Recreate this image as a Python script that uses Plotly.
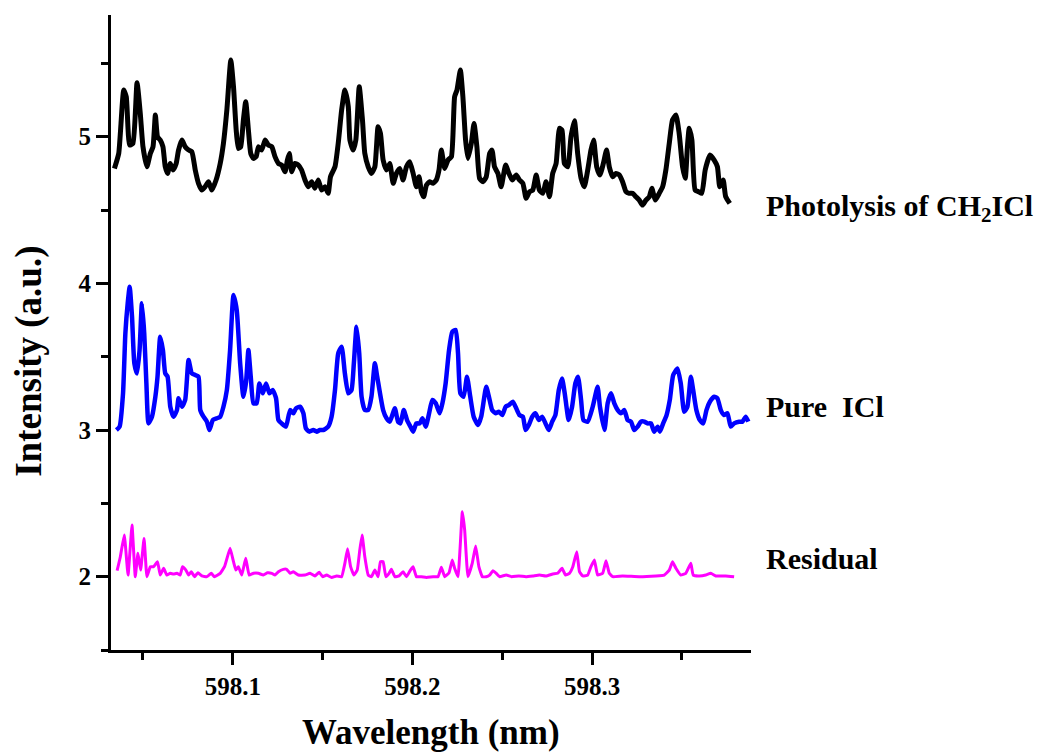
import plotly.graph_objects as go

# ---------------- data ----------------
photolysis_wl = [
    598.0341, 598.0365, 598.0393, 598.0407, 598.0426, 598.0444, 598.0467, 598.0485, 598.0500, 598.0522,
    598.0541, 598.0556, 598.0569, 598.0581, 598.0596, 598.0611, 598.0624, 598.0637, 598.0652, 598.0667,
    598.0685, 598.0698, 598.0717, 598.0735, 598.0754, 598.0772, 598.0791, 598.0809, 598.0828, 598.0846,
    598.0865, 598.0883, 598.0907, 598.0930, 598.0948, 598.0967, 598.0989, 598.1004, 598.1019, 598.1031,
    598.1044, 598.1059, 598.1072, 598.1087, 598.1100, 598.1115, 598.1130, 598.1143, 598.1161, 598.1180,
    598.1198, 598.1217, 598.1235, 598.1254, 598.1272, 598.1291, 598.1304, 598.1315, 598.1328, 598.1346,
    598.1365, 598.1383, 598.1402, 598.1420, 598.1439, 598.1457, 598.1476, 598.1494, 598.1513, 598.1531,
    598.1544, 598.1569, 598.1587, 598.1606, 598.1624, 598.1643, 598.1652, 598.1670, 598.1685, 598.1704,
    598.1722, 598.1735, 598.1754, 598.1772, 598.1791, 598.1809, 598.1822,
    598.1837, 598.1856, 598.1874, 598.1893, 598.1911, 598.1930, 598.1948, 598.1967, 598.1985, 598.2004,
    598.2022, 598.2037, 598.2050, 598.2063, 598.2078, 598.2096, 598.2115, 598.2133, 598.2148, 598.2161,
    598.2180, 598.2198, 598.2217, 598.2235, 598.2248, 598.2267, 598.2281, 598.2296, 598.2309, 598.2328,
    598.2343, 598.2359, 598.2374, 598.2393, 598.2411, 598.2430, 598.2443, 598.2457, 598.2476, 598.2494,
    598.2519, 598.2537, 598.2556, 598.2578, 598.2596, 598.2615, 598.2633, 598.2652, 598.2670, 598.2689,
    598.2707, 598.2726, 598.2744, 598.2763, 598.2781, 598.2800, 598.2819, 598.2833, 598.2846, 598.2865,
    598.2883, 598.2902, 598.2920, 598.2939, 598.2957, 598.2976, 598.2994, 598.3009, 598.3026, 598.3044,
    598.3063, 598.3081, 598.3096, 598.3115, 598.3133, 598.3152, 598.3170, 598.3189, 598.3207, 598.3226,
    598.3244, 598.3263, 598.3281, 598.3300, 598.3319, 598.3333, 598.3352, 598.3374, 598.3393, 598.3411,
    598.3430, 598.3448, 598.3467, 598.3485, 598.3504, 598.3519, 598.3531, 598.3541, 598.3556, 598.3574,
    598.3593, 598.3611, 598.3630, 598.3657, 598.3680, 598.3698, 598.3711, 598.3730, 598.3744, 598.3767,
]
photolysis_int = [
    4.784, 4.886, 5.318, 5.273, 4.943, 4.955, 5.368, 5.159, 4.932, 4.795,
    4.886, 4.932, 5.148, 5.000, 4.977, 4.932, 4.795, 4.750, 4.818, 4.773,
    4.818, 4.909, 4.977, 4.932, 4.909, 4.898, 4.773, 4.682, 4.636, 4.659,
    4.693, 4.636, 4.705, 4.818, 4.955, 5.182, 5.523, 5.341, 5.045, 4.920,
    4.932, 5.114, 5.239, 5.045, 4.886, 4.852, 4.864, 4.932, 4.909, 4.977,
    4.943, 4.932, 4.864, 4.818, 4.807, 4.761, 4.841, 4.886, 4.761, 4.818,
    4.807, 4.773, 4.705, 4.659, 4.693, 4.648, 4.705, 4.636, 4.659, 4.614,
    4.727, 4.795, 4.955, 5.182, 5.318, 5.205, 4.977, 4.909, 4.977, 5.341,
    5.114, 4.886, 4.795, 4.750, 4.795, 5.068, 5.023,
    4.841, 4.773, 4.818, 4.682, 4.750, 4.784, 4.705, 4.795, 4.830, 4.750,
    4.659, 4.727, 4.625, 4.591, 4.670, 4.693, 4.682, 4.705, 4.773, 4.909,
    4.784, 4.841, 4.864, 5.273, 5.318, 5.455, 5.273, 4.977, 4.852, 4.955,
    5.091, 4.932, 4.716, 4.693, 4.727, 4.886, 4.909, 4.795, 4.750, 4.659,
    4.807, 4.750, 4.705, 4.739, 4.705, 4.682, 4.580, 4.625, 4.636, 4.739,
    4.636, 4.614, 4.693, 4.591, 4.750, 4.818, 5.057, 5.045, 4.818, 4.795,
    5.000, 5.109, 4.886, 4.716, 4.659, 4.773, 4.909, 4.977, 4.795, 4.739,
    4.818, 4.909, 4.795, 4.727, 4.750, 4.739, 4.693, 4.625, 4.614, 4.614,
    4.591, 4.568, 4.534, 4.568, 4.591, 4.648, 4.568, 4.614, 4.659, 4.773,
    4.955, 5.114, 5.148, 5.023, 4.795, 4.716, 4.932, 5.057, 4.977, 4.636,
    4.625, 4.614, 4.773, 4.875, 4.841, 4.795, 4.659, 4.705, 4.591, 4.545,
]

pure_wl = [
    598.0352, 598.0370, 598.0389, 598.0402, 598.0415, 598.0426, 598.0439, 598.0452, 598.0467, 598.0481,
    598.0494, 598.0507, 598.0519, 598.0531, 598.0550, 598.0569, 598.0581, 598.0596, 598.0611, 598.0624,
    598.0637, 598.0652, 598.0670, 598.0689, 598.0698, 598.0717, 598.0735, 598.0754, 598.0772, 598.0791,
    598.0809, 598.0819, 598.0837, 598.0856, 598.0870, 598.0889, 598.0911, 598.0930, 598.0948, 598.0967,
    598.0985, 598.1004, 598.1022, 598.1041, 598.1059, 598.1074, 598.1087, 598.1100, 598.1115, 598.1133,
    598.1148, 598.1167, 598.1185, 598.1204, 598.1222, 598.1241, 598.1254, 598.1272, 598.1296, 598.1319,
    598.1337, 598.1352, 598.1374, 598.1393, 598.1407, 598.1426, 598.1448, 598.1467, 598.1485, 598.1504,
    598.1531, 598.1550, 598.1569, 598.1587, 598.1606, 598.1624, 598.1643, 598.1661, 598.1674, 598.1689,
    598.1704, 598.1717, 598.1735, 598.1754, 598.1772, 598.1791, 598.1804,
    598.1837, 598.1856, 598.1874, 598.1902, 598.1920, 598.1933, 598.1952, 598.1970, 598.1989, 598.2004,
    598.2022, 598.2041, 598.2056, 598.2074, 598.2093, 598.2111, 598.2130, 598.2152, 598.2167, 598.2185,
    598.2204, 598.2222, 598.2241, 598.2254, 598.2267, 598.2285, 598.2304, 598.2322, 598.2341, 598.2365,
    598.2383, 598.2411, 598.2426, 598.2444, 598.2463, 598.2481, 598.2500, 598.2519, 598.2537, 598.2559,
    598.2578, 598.2596, 598.2615, 598.2630, 598.2648, 598.2667, 598.2685, 598.2704, 598.2722, 598.2741,
    598.2759, 598.2778, 598.2796, 598.2815, 598.2833, 598.2848, 598.2870, 598.2889, 598.2907, 598.2922,
    598.2939, 598.2952, 598.2976, 598.3004, 598.3031, 598.3044, 598.3069, 598.3087, 598.3106, 598.3124,
    598.3143, 598.3161, 598.3180, 598.3198, 598.3217, 598.3235, 598.3254, 598.3272, 598.3291, 598.3309,
    598.3328, 598.3346, 598.3365, 598.3378, 598.3396, 598.3415, 598.3433, 598.3452, 598.3476, 598.3494,
    598.3513, 598.3531, 598.3550, 598.3563, 598.3581, 598.3600, 598.3619, 598.3637, 598.3656, 598.3680,
    598.3698, 598.3717, 598.3735, 598.3754, 598.3772, 598.3791, 598.3819, 598.3837, 598.3856, 598.3870,
]
pure_int = [
    3.000, 3.023, 3.250, 3.659, 3.864, 3.977, 3.773, 3.455, 3.386, 3.545,
    3.864, 3.659, 3.318, 3.045, 3.091, 3.227, 3.364, 3.636, 3.545, 3.386,
    3.364, 3.159, 3.091, 3.136, 3.216, 3.159, 3.205, 3.477, 3.386, 3.375,
    3.364, 3.136, 3.091, 3.057, 3.000, 3.068, 3.080, 3.091, 3.159, 3.273,
    3.545, 3.920, 3.818, 3.455, 3.227, 3.330, 3.545, 3.364, 3.182, 3.182,
    3.318, 3.250, 3.318, 3.250, 3.273, 3.216, 3.068, 3.045, 3.023, 3.136,
    3.114, 3.148, 3.159, 3.114, 3.011, 2.989, 3.000, 2.989, 3.000, 3.000,
    3.023, 3.091, 3.273, 3.523, 3.568, 3.386, 3.250, 3.273, 3.455, 3.705,
    3.523, 3.227, 3.136, 3.136, 3.227, 3.455, 3.364,
    3.136, 3.080, 3.057, 3.148, 3.057, 3.045, 3.136, 3.068, 3.023, 2.989,
    3.045, 3.045, 3.080, 3.023, 3.114, 3.205, 3.182, 3.114, 3.182, 3.318,
    3.545, 3.670, 3.682, 3.523, 3.250, 3.227, 3.364, 3.227, 3.091, 3.034,
    3.091, 3.295, 3.227, 3.136, 3.114, 3.125, 3.102, 3.159, 3.170, 3.193,
    3.148, 3.102, 3.091, 3.000, 3.034, 3.091, 3.114, 3.068, 3.091, 3.045,
    3.000, 3.057, 3.102, 3.273, 3.352, 3.250, 3.068, 3.159, 3.318, 3.364,
    3.205, 3.068, 3.057, 3.159, 3.295, 3.159, 3.000, 3.182, 3.250, 3.182,
    3.136, 3.114, 3.136, 3.068, 3.057, 3.000, 3.023, 3.057, 3.057, 3.045,
    3.045, 2.989, 3.023, 2.989, 3.045, 3.102, 3.205, 3.375, 3.420, 3.318,
    3.125, 3.159, 3.364, 3.273, 3.136, 3.068, 3.045, 3.136, 3.193, 3.227,
    3.216, 3.136, 3.102, 3.114, 3.023, 3.045, 3.057, 3.057, 3.091, 3.057,
]

residual_wl = [
    598.0356, 598.0374, 598.0396, 598.0417, 598.0439, 598.0457, 598.0472, 598.0487, 598.0506, 598.0522,
    598.0541, 598.0559, 598.0581, 598.0596, 598.0615, 598.0633, 598.0652, 598.0670, 598.0689, 598.0707,
    598.0720, 598.0739, 598.0754, 598.0769, 598.0787, 598.0806, 598.0828, 598.0856, 598.0880, 598.0898,
    598.0930, 598.0954, 598.0985, 598.1004, 598.1017, 598.1031, 598.1050, 598.1072, 598.1091, 598.1115,
    598.1143, 598.1170, 598.1194, 598.1217, 598.1235, 598.1254, 598.1281, 598.1300, 598.1319, 598.1337,
    598.1365, 598.1402,
    598.1430, 598.1457, 598.1481, 598.1500, 598.1522, 598.1550, 598.1578, 598.1606, 598.1624, 598.1639,
    598.1656, 598.1674, 598.1693, 598.1707, 598.1720, 598.1735, 598.1754, 598.1772, 598.1791, 598.1809,
    598.1822, 598.1837, 598.1852, 598.1870, 598.1883, 598.1902, 598.1926, 598.1948, 598.1967, 598.1989,
    598.2004, 598.2022, 598.2050, 598.2078, 598.2115, 598.2143, 598.2161, 598.2180, 598.2204, 598.2222,
    598.2235, 598.2254, 598.2278, 598.2291, 598.2309, 598.2333, 598.2352, 598.2370, 598.2389, 598.2411,
    598.2430, 598.2448, 598.2467, 598.2485, 598.2522, 598.2552, 598.2592, 598.2632, 598.2671,
    598.2707, 598.2744, 598.2781, 598.2809, 598.2833, 598.2852, 598.2874, 598.2893, 598.2915, 598.2930,
    598.2948, 598.2976, 598.2994, 598.3013, 598.3031, 598.3059, 598.3078, 598.3096, 598.3115, 598.3170,
    598.3263, 598.3356, 598.3402, 598.3430, 598.3448, 598.3467, 598.3494, 598.3522, 598.3550, 598.3563,
    598.3596, 598.3633, 598.3661, 598.3689, 598.3744, 598.3791,
]
residual_int = [
    2.041, 2.136, 2.284, 2.011, 2.352, 2.000, 2.159, 2.045, 2.261, 2.000,
    2.068, 2.068, 2.102, 2.011, 2.057, 2.011, 2.023, 2.018, 2.023, 2.011,
    2.068, 2.045, 2.011, 2.034, 2.000, 2.027, 2.005, 2.000, 2.023, 2.000,
    2.023, 2.068, 2.193, 2.102, 2.045, 2.068, 2.011, 2.125, 2.011, 2.023,
    2.023, 2.011, 2.027, 2.023, 2.011, 2.034, 2.050, 2.050, 2.023, 2.034,
    2.011, 2.011,
    2.023, 2.005, 2.030, 2.000, 2.011, 1.995, 2.005, 2.000, 2.091, 2.191,
    2.068, 2.011, 2.045, 2.182, 2.284, 2.136, 2.011, 2.000, 2.045, 2.000,
    2.102, 2.102, 2.000, 2.023, 2.050, 2.000, 2.005, 2.034, 2.000, 2.045,
    2.068, 2.000, 2.000, 1.995, 2.000, 2.000, 2.064, 2.000, 2.027, 2.114,
    2.057, 2.000, 2.443, 2.318, 2.000, 2.091, 2.209, 2.068, 2.000, 2.000,
    2.011, 2.041, 2.023, 2.000, 2.011, 2.000, 2.005, 2.000, 2.005,
    2.011, 2.005, 2.018, 2.023, 2.057, 2.011, 2.023, 2.068, 2.170, 2.034,
    2.005, 2.011, 2.068, 2.114, 2.011, 2.023, 2.109, 2.023, 2.000, 2.005,
    2.000, 2.005, 2.011, 2.045, 2.102, 2.057, 2.011, 2.023, 2.091, 2.011,
    2.005, 2.011, 2.023, 2.005, 2.005, 2.000,
]

x_tick_values = [598.1, 598.2, 598.3]
x_tick_labels = ["598.1", "598.2", "598.3"]
y_tick_values = [2, 3, 4, 5]
y_tick_labels = ["2", "3", "4", "5"]

series_labels = ["Photolysis of CH<sub>2</sub>ICl", "Pure  ICl", "Residual"]
label_levels = [4.517, 3.159, 2.127]

assert len(photolysis_wl) == len(photolysis_int), (len(photolysis_wl), len(photolysis_int))
assert len(pure_wl) == len(pure_int), (len(pure_wl), len(pure_int))
assert len(residual_wl) == len(residual_int), (len(residual_wl), len(residual_int))

# ---------------- figure ----------------
FONT = "Liberation Serif, Times New Roman, serif"

fig = go.Figure()
fig.add_trace(go.Scatter(x=photolysis_wl, y=photolysis_int, mode="lines",
                         line=dict(color="#000000", width=5, shape="spline", smoothing=0.5),
                         showlegend=False))
fig.add_trace(go.Scatter(x=pure_wl, y=pure_int, mode="lines",
                         line=dict(color="#0000FF", width=4.5, shape="spline", smoothing=0.5),
                         showlegend=False))
fig.add_trace(go.Scatter(x=residual_wl, y=residual_int, mode="lines",
                         line=dict(color="#FF00FF", width=3, shape="spline", smoothing=0.3),
                         showlegend=False))

for txt, lvl in zip(series_labels, label_levels):
    fig.add_annotation(x=1.021, xref="paper", y=lvl, yref="y", text=txt,
                       showarrow=False, xanchor="left", yanchor="middle",
                       font=dict(family=FONT, size=30, color="black", weight="bold"))

fig.add_annotation(x=0.5, xref="paper", y=-0.13, yref="paper", text="Wavelength (nm)",
                   showarrow=False, xanchor="center", yanchor="middle",
                   font=dict(family=FONT, size=35, color="black", weight="bold"))
fig.add_annotation(x=-0.128, xref="paper", y=0.454, yref="paper", text="Intensity (a.u.)",
                   textangle=-90, showarrow=False, xanchor="center", yanchor="middle",
                   font=dict(family=FONT, size=37, color="black", weight="bold"))

fig.update_layout(
    width=1039, height=753,
    margin=dict(l=111, r=288, t=15, b=103, autoexpand=False),
    paper_bgcolor="white", plot_bgcolor="white",
    font=dict(family=FONT, color="black"),
)
fig.update_xaxes(
    range=[598.0322, 598.3885], showgrid=False, zeroline=False,
    showline=True, linecolor="black", linewidth=3,
    ticks="outside", ticklen=12, tickwidth=3, tickcolor="black",
    tickvals=x_tick_values, ticktext=x_tick_labels,
    tickfont=dict(family=FONT, size=25, color="black", weight="bold"),
    minor=dict(ticks="outside", ticklen=7, tickwidth=3, tickcolor="black",
               tick0=598.0, dtick=0.05, showgrid=False),
)
fig.update_yaxes(
    range=[1.5, 5.83], showgrid=False, zeroline=False,
    showline=True, linecolor="black", linewidth=3,
    ticks="outside", ticklen=12, tickwidth=3, tickcolor="black",
    tickvals=y_tick_values, ticktext=y_tick_labels,
    tickfont=dict(family=FONT, size=25, color="black", weight="bold"),
    minor=dict(ticks="outside", ticklen=7, tickwidth=3, tickcolor="black",
               tick0=0, dtick=0.5, showgrid=False),
)

# remove the browser's default page margin so the figure sits at the window origin
fig.write_html("out.html",
               config={"displayModeBar": False},
               post_script="document.body.style.margin='0';document.body.style.overflow='hidden';")
